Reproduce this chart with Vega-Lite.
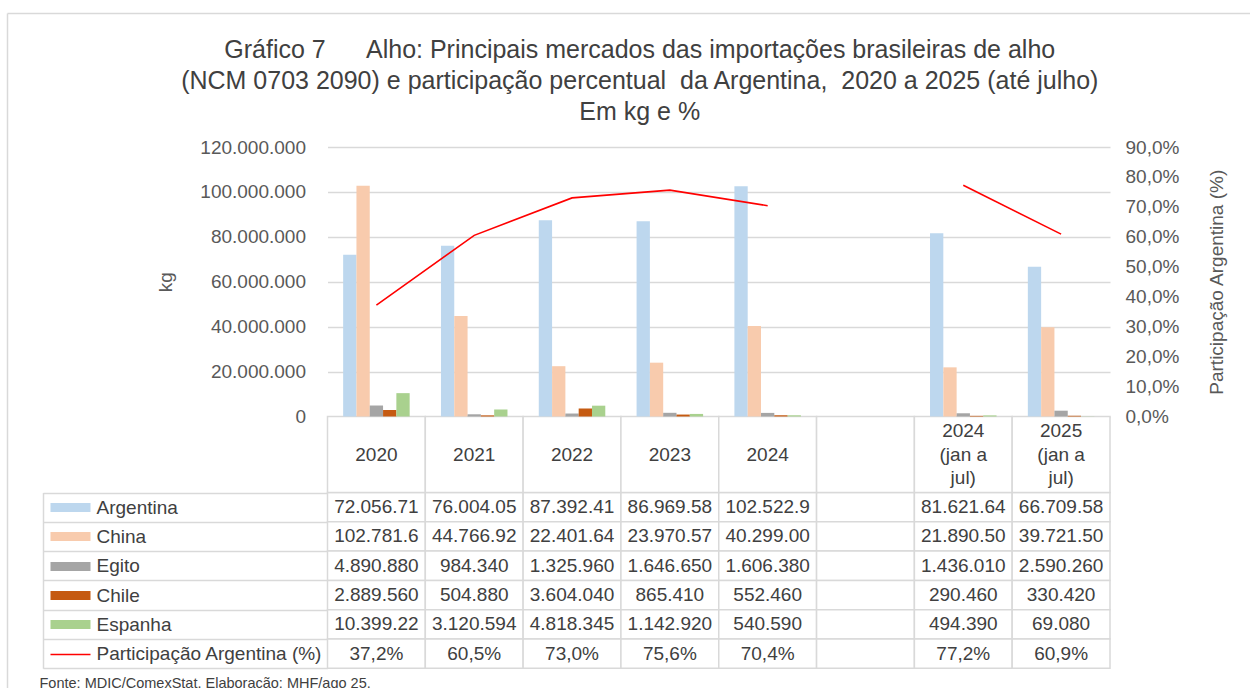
{
  "$schema": "https://vega.github.io/schema/vega-lite/v6.json",
  "width": 782.5,
  "height": 521.3,
  "autosize": {"type": "none"},
  "padding": {"left": 327.5, "top": 147, "right": 140, "bottom": 19.7},
  "background": "white",
  "config": {
    "locale": {"number": {"decimal": ",", "thousands": ".", "grouping": [3], "currency": ["R$", ""]}},
    "view": {"stroke": null},
    "font": "Liberation Sans"
  },
  "title": {
    "text": ["Gráfico 7\u00a0\u00a0\u00a0\u00a0\u00a0 Alho: Principais mercados das importações brasileiras de alho", "(NCM 0703 2090) e participação percentual \u00a0da Argentina, \u00a02020 a 2025 (até julho)", "Em kg e %"],
    "font": "Liberation Sans",
    "fontSize": 25,
    "fontWeight": "normal",
    "color": "#404040",
    "lineHeight": 31,
    "anchor": "middle",
    "frame": "group",
    "dx": -79,
    "offset": -112
  },
  "datasets": {
    "valores": [
      {"cat": "2020", "serie": "Argentina", "valor": 72056710, "rotulo": "72.056.71", "periodo": "ano"},
      {"cat": "2021", "serie": "Argentina", "valor": 76004050, "rotulo": "76.004.05", "periodo": "ano"},
      {"cat": "2022", "serie": "Argentina", "valor": 87392410, "rotulo": "87.392.41", "periodo": "ano"},
      {"cat": "2023", "serie": "Argentina", "valor": 86969580, "rotulo": "86.969.58", "periodo": "ano"},
      {"cat": "2024", "serie": "Argentina", "valor": 102522900, "rotulo": "102.522.9", "periodo": "ano"},
      {"cat": " ", "serie": "Argentina", "valor": null, "rotulo": "", "periodo": "vazio"},
      {"cat": "2024\n(jan a\njul)", "serie": "Argentina", "valor": 81621640, "rotulo": "81.621.64", "periodo": "jan-jul"},
      {"cat": "2025\n(jan a\njul)", "serie": "Argentina", "valor": 66709580, "rotulo": "66.709.58", "periodo": "jan-jul"},
      {"cat": "2020", "serie": "China", "valor": 102781600, "rotulo": "102.781.6", "periodo": "ano"},
      {"cat": "2021", "serie": "China", "valor": 44766920, "rotulo": "44.766.92", "periodo": "ano"},
      {"cat": "2022", "serie": "China", "valor": 22401640, "rotulo": "22.401.64", "periodo": "ano"},
      {"cat": "2023", "serie": "China", "valor": 23970570, "rotulo": "23.970.57", "periodo": "ano"},
      {"cat": "2024", "serie": "China", "valor": 40299000, "rotulo": "40.299.00", "periodo": "ano"},
      {"cat": " ", "serie": "China", "valor": null, "rotulo": "", "periodo": "vazio"},
      {"cat": "2024\n(jan a\njul)", "serie": "China", "valor": 21890500, "rotulo": "21.890.50", "periodo": "jan-jul"},
      {"cat": "2025\n(jan a\njul)", "serie": "China", "valor": 39721500, "rotulo": "39.721.50", "periodo": "jan-jul"},
      {"cat": "2020", "serie": "Egito", "valor": 4890880, "rotulo": "4.890.880", "periodo": "ano"},
      {"cat": "2021", "serie": "Egito", "valor": 984340, "rotulo": "984.340", "periodo": "ano"},
      {"cat": "2022", "serie": "Egito", "valor": 1325960, "rotulo": "1.325.960", "periodo": "ano"},
      {"cat": "2023", "serie": "Egito", "valor": 1646650, "rotulo": "1.646.650", "periodo": "ano"},
      {"cat": "2024", "serie": "Egito", "valor": 1606380, "rotulo": "1.606.380", "periodo": "ano"},
      {"cat": " ", "serie": "Egito", "valor": null, "rotulo": "", "periodo": "vazio"},
      {"cat": "2024\n(jan a\njul)", "serie": "Egito", "valor": 1436010, "rotulo": "1.436.010", "periodo": "jan-jul"},
      {"cat": "2025\n(jan a\njul)", "serie": "Egito", "valor": 2590260, "rotulo": "2.590.260", "periodo": "jan-jul"},
      {"cat": "2020", "serie": "Chile", "valor": 2889560, "rotulo": "2.889.560", "periodo": "ano"},
      {"cat": "2021", "serie": "Chile", "valor": 504880, "rotulo": "504.880", "periodo": "ano"},
      {"cat": "2022", "serie": "Chile", "valor": 3604040, "rotulo": "3.604.040", "periodo": "ano"},
      {"cat": "2023", "serie": "Chile", "valor": 865410, "rotulo": "865.410", "periodo": "ano"},
      {"cat": "2024", "serie": "Chile", "valor": 552460, "rotulo": "552.460", "periodo": "ano"},
      {"cat": " ", "serie": "Chile", "valor": null, "rotulo": "", "periodo": "vazio"},
      {"cat": "2024\n(jan a\njul)", "serie": "Chile", "valor": 290460, "rotulo": "290.460", "periodo": "jan-jul"},
      {"cat": "2025\n(jan a\njul)", "serie": "Chile", "valor": 330420, "rotulo": "330.420", "periodo": "jan-jul"},
      {"cat": "2020", "serie": "Espanha", "valor": 10399220, "rotulo": "10.399.22", "periodo": "ano"},
      {"cat": "2021", "serie": "Espanha", "valor": 3120594, "rotulo": "3.120.594", "periodo": "ano"},
      {"cat": "2022", "serie": "Espanha", "valor": 4818345, "rotulo": "4.818.345", "periodo": "ano"},
      {"cat": "2023", "serie": "Espanha", "valor": 1142920, "rotulo": "1.142.920", "periodo": "ano"},
      {"cat": "2024", "serie": "Espanha", "valor": 540590, "rotulo": "540.590", "periodo": "ano"},
      {"cat": " ", "serie": "Espanha", "valor": null, "rotulo": "", "periodo": "vazio"},
      {"cat": "2024\n(jan a\njul)", "serie": "Espanha", "valor": 494390, "rotulo": "494.390", "periodo": "jan-jul"},
      {"cat": "2025\n(jan a\njul)", "serie": "Espanha", "valor": 69080, "rotulo": "69.080", "periodo": "jan-jul"},
      {"cat": "2020", "serie": "Participação Argentina (%)", "valor": 0.372, "rotulo": "37,2%", "periodo": "ano"},
      {"cat": "2021", "serie": "Participação Argentina (%)", "valor": 0.605, "rotulo": "60,5%", "periodo": "ano"},
      {"cat": "2022", "serie": "Participação Argentina (%)", "valor": 0.730, "rotulo": "73,0%", "periodo": "ano"},
      {"cat": "2023", "serie": "Participação Argentina (%)", "valor": 0.756, "rotulo": "75,6%", "periodo": "ano"},
      {"cat": "2024", "serie": "Participação Argentina (%)", "valor": 0.704, "rotulo": "70,4%", "periodo": "ano"},
      {"cat": " ", "serie": "Participação Argentina (%)", "valor": null, "rotulo": "", "periodo": "vazio"},
      {"cat": "2024\n(jan a\njul)", "serie": "Participação Argentina (%)", "valor": 0.772, "rotulo": "77,2%", "periodo": "jan-jul"},
      {"cat": "2025\n(jan a\njul)", "serie": "Participação Argentina (%)", "valor": 0.609, "rotulo": "60,9%", "periodo": "jan-jul"}
    ]
  },
  "layer": [
    {
      "data": {"name": "valores"},
      "mark": {"type": "rect", "fill": "white", "stroke": "#d9d9d9", "strokeWidth": 1.5},
      "encoding": {
        "x": {"field": "cat", "type": "nominal", "sort": null, "scale": {"domain": ["2020", "2021", "2022", "2023", "2024", " ", "2024\n(jan a\njul)", "2025\n(jan a\njul)"], "paddingInner": 0, "paddingOuter": 0}, "axis": null},
        "y": {"field": "serie", "type": "nominal", "sort": null,
              "scale": {"domain": ["Argentina", "China", "Egito", "Chile", "Espanha", "Participação Argentina (%)"], "range": [345.5, 521.3], "paddingInner": 0, "paddingOuter": 0},
              "axis": {"orient": "left", "labels": false, "domain": false, "grid": false, "ticks": true, "tickBand": "extent", "tickSize": 284.5, "tickColor": "#d9d9d9", "tickWidth": 1.5, "title": null}}
      }
    },
    {
      "data": {"name": "valores"},
      "transform": [{"filter": "datum.serie === 'Argentina'"}],
      "mark": {"type": "rect", "fill": "white", "stroke": "#d9d9d9", "strokeWidth": 1.5},
      "encoding": {
        "x": {"field": "cat", "type": "nominal", "sort": null, "scale": {"domain": ["2020", "2021", "2022", "2023", "2024", " ", "2024\n(jan a\njul)", "2025\n(jan a\njul)"], "paddingInner": 0, "paddingOuter": 0}, "axis": null},
        "y": {"datum": "cabeçalho", "type": "nominal", "scale": {"range": [269.5, 345.5], "paddingInner": 0, "paddingOuter": 0}, "axis": null}
      }
    },
    {
      "data": {"name": "valores"},
      "transform": [{"filter": "datum.serie === 'Argentina' && indexof(datum.cat, '\\n') < 0"}],
      "mark": {"type": "text", "fontSize": 19, "color": "#404040", "baseline": "middle", "align": "center"},
      "encoding": {
        "x": {"field": "cat", "type": "nominal", "sort": null, "scale": {"domain": ["2020", "2021", "2022", "2023", "2024", " ", "2024\n(jan a\njul)", "2025\n(jan a\njul)"], "paddingInner": 0, "paddingOuter": 0}, "axis": null},
        "y": {"datum": "cabeçalho", "type": "nominal", "scale": {"range": [269.5, 345.5], "paddingInner": 0, "paddingOuter": 0}, "axis": null},
        "text": {"field": "cat"}
      }
    },
    {
      "data": {"name": "valores"},
      "transform": [{"filter": "datum.serie === 'Argentina' && indexof(datum.cat, '\\n') >= 0"}],
      "mark": {"type": "text", "lineBreak": "\n", "lineHeight": 23.5, "fontSize": 19, "color": "#404040", "baseline": "middle", "align": "center", "dy": -23.5},
      "encoding": {
        "x": {"field": "cat", "type": "nominal", "sort": null, "scale": {"domain": ["2020", "2021", "2022", "2023", "2024", " ", "2024\n(jan a\njul)", "2025\n(jan a\njul)"], "paddingInner": 0, "paddingOuter": 0}, "axis": null},
        "y": {"datum": "cabeçalho", "type": "nominal", "scale": {"range": [269.5, 345.5], "paddingInner": 0, "paddingOuter": 0}, "axis": null},
        "text": {"field": "cat"}
      }
    },
    {
      "data": {"name": "valores"},
      "transform": [{"filter": "datum.serie !== 'Participação Argentina (%)' && datum.valor != null"}],
      "mark": {"type": "bar"},
      "encoding": {
        "x": {"field": "cat", "type": "nominal", "sort": null, "scale": {"domain": ["2020", "2021", "2022", "2023", "2024", " ", "2024\n(jan a\njul)", "2025\n(jan a\njul)"], "paddingInner": 0.32, "paddingOuter": 0.16}, "axis": null},
        "xOffset": {"field": "serie", "type": "nominal", "sort": null, "scale": {"domain": ["Argentina", "China", "Egito", "Chile", "Espanha"], "paddingInner": 0, "paddingOuter": 0}},
        "y": {"field": "valor", "type": "quantitative",
              "scale": {"domain": [0, 120000000], "range": [269.5, 0], "nice": false},
              "axis": {"orient": "left", "values": [0, 20000000, 40000000, 60000000, 80000000, 100000000, 120000000], "format": ",.0f",
                       "grid": true, "gridColor": "#d9d9d9", "gridWidth": 1.3, "domain": false, "ticks": false, "tickSize": 0,
                       "labelFontSize": 19, "labelColor": "#595959", "labelPadding": 22, "labelFont": "Liberation Sans",
                       "title": "kg", "titleFontSize": 19, "titleFontWeight": "normal", "titleColor": "#595959", "titlePadding": 24, "titleFont": "Liberation Sans"}},
        "color": {"field": "serie", "type": "nominal", "scale": {"domain": ["Argentina", "China", "Egito", "Chile", "Espanha"], "range": ["#bdd7ee", "#f8cbad", "#a5a5a5", "#c55a11", "#a9d18e"]}, "legend": null}
      }
    },
    {
      "data": {"name": "valores"},
      "transform": [{"filter": "datum.serie === 'Participação Argentina (%)'"}],
      "mark": {"type": "line", "color": "#ff0000", "strokeWidth": 1.6},
      "encoding": {
        "x": {"field": "cat", "type": "nominal", "sort": null, "scale": {"domain": ["2020", "2021", "2022", "2023", "2024", " ", "2024\n(jan a\njul)", "2025\n(jan a\njul)"], "paddingInner": 0, "paddingOuter": 0}, "axis": null},
        "y": {"field": "valor", "type": "quantitative",
              "scale": {"domain": [0, 0.9], "range": [269.5, 0], "nice": false},
              "axis": {"orient": "right", "values": [0, 0.1, 0.2, 0.3, 0.4, 0.5, 0.6, 0.7, 0.8, 0.9], "format": ".1%",
                       "grid": false, "domain": false, "ticks": false, "tickSize": 0,
                       "labelFontSize": 19, "labelColor": "#595959", "labelPadding": 15, "labelFont": "Liberation Sans",
                       "title": "Participação Argentina (%)", "titleFontSize": 19, "titleFontWeight": "normal", "titleColor": "#595959",
                       "titleAngle": 270, "titleBaseline": "top", "titlePadding": 29, "titleFont": "Liberation Sans"}},
        "detail": {"field": "periodo", "type": "nominal"}
      }
    },
    {
      "data": {"name": "valores"},
      "mark": {"type": "text", "fontSize": 19, "color": "#404040", "baseline": "middle", "align": "center"},
      "encoding": {
        "x": {"field": "cat", "type": "nominal", "sort": null, "scale": {"domain": ["2020", "2021", "2022", "2023", "2024", " ", "2024\n(jan a\njul)", "2025\n(jan a\njul)"], "paddingInner": 0, "paddingOuter": 0},
              "axis": {"orient": "bottom", "labels": false, "ticks": false, "tickSize": 0, "domain": false, "grid": false,
                       "title": "Fonte: MDIC/ComexStat. Elaboração: MHF/ago 25.", "titleFontSize": 14.5, "titleFontWeight": "normal", "titleColor": "#404040",
                       "titleAnchor": "start", "titleAlign": "left", "titleBaseline": "top", "titleX": -288.5, "titleY": 8, "titleFont": "Liberation Sans"}},
        "y": {"field": "serie", "type": "nominal", "sort": null,
              "scale": {"domain": ["Argentina", "China", "Egito", "Chile", "Espanha", "Participação Argentina (%)"], "range": [345.5, 521.3], "paddingInner": 0, "paddingOuter": 0},
              "axis": {"orient": "left", "labels": true, "labelAlign": "left", "labelBaseline": "middle", "labelPadding": 231.5, "labelLimit": 0, "labelFontSize": 19, "labelColor": "#404040", "labelFont": "Liberation Sans",
                       "domain": false, "grid": false, "ticks": false, "tickSize": 0, "title": null}},
        "text": {"field": "rotulo"}
      }
    },
    {
      "data": {"name": "valores"},
      "mark": {"type": "text", "text": "", "opacity": 0},
      "encoding": {
        "y": {"field": "serie", "type": "nominal", "sort": null,
              "scale": {"domain": ["Argentina", "China", "Egito", "Chile", "Espanha", "Participação Argentina (%)"], "range": [345.5, 521.3], "paddingInner": 0, "paddingOuter": 0},
              "axis": {"orient": "left", "offset": 237.5, "labels": false, "domain": false, "grid": false, "ticks": true, "tickSize": 40,
                       "tickColor": {"condition": [
                          {"test": "datum.value === 'Argentina'", "value": "#bdd7ee"},
                          {"test": "datum.value === 'China'", "value": "#f8cbad"},
                          {"test": "datum.value === 'Egito'", "value": "#a5a5a5"},
                          {"test": "datum.value === 'Chile'", "value": "#c55a11"},
                          {"test": "datum.value === 'Espanha'", "value": "#a9d18e"}], "value": "#ff0000"},
                       "tickWidth": {"condition": {"test": "datum.value === 'Participação Argentina (%)'", "value": 1.5}, "value": 9},
                       "title": null}}
      }
    },
    {
      "data": {"name": "valores"},
      "mark": {"type": "text", "text": "", "opacity": 0},
      "encoding": {
        "y": {"field": "serie", "type": "nominal", "sort": null,
              "scale": {"domain": ["Argentina", "China", "Egito", "Chile", "Espanha", "Participação Argentina (%)"], "range": [345.5, 521.3], "paddingInner": 0, "paddingOuter": 0},
              "axis": {"orient": "left", "offset": 284.5, "labels": false, "domain": true, "domainColor": "#d9d9d9", "domainWidth": 1.5, "grid": false, "ticks": false, "tickSize": 0, "title": null}}
      }
    },
    {
      "data": {"name": "valores"},
      "mark": {"type": "text", "text": "", "opacity": 0},
      "encoding": {
        "x": {"field": "cat", "type": "nominal", "sort": null, "scale": {"domain": ["2020", "2021", "2022", "2023", "2024", " ", "2024\n(jan a\njul)", "2025\n(jan a\njul)"], "range": [-320.5, 930], "paddingInner": 0, "paddingOuter": 0},
              "axis": {"orient": "top", "offset": 134, "labels": false, "ticks": false, "tickSize": 0, "grid": false, "domain": true, "domainColor": "#d9d9d9", "domainWidth": 1.5, "title": null}},
        "y": {"field": "serie", "type": "nominal", "sort": null,
              "scale": {"domain": ["Argentina", "China", "Egito", "Chile", "Espanha", "Participação Argentina (%)"], "range": [-134, 560], "paddingInner": 0, "paddingOuter": 0},
              "axis": {"orient": "left", "offset": 320.5, "labels": false, "domain": true, "domainColor": "#d9d9d9", "domainWidth": 1.5, "grid": false, "ticks": false, "tickSize": 0, "title": null}}
      }
    }
  ],
  "resolve": {"scale": {"x": "independent", "y": "independent", "color": "independent"}, "axis": {"x": "independent", "y": "independent"}}
}
